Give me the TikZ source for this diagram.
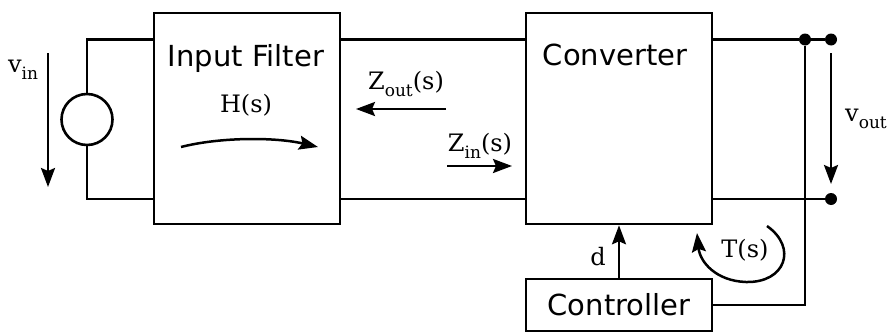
\documentclass[tikz,border=0pt]{standalone}
\usepackage{fontspec}
\newfontfamily\dvsfont{DejaVu Sans}
\newfontfamily\dvserif{DejaVu Serif}
\newcommand{\lowsub}[1]{\raisebox{-0.28em}{\fontsize{17}{18}\selectfont #1}}
\usetikzlibrary{arrows.meta}
\begin{document}
\begin{tikzpicture}[x=1pt,y=-1pt,
  wire/.style={line width=2.6pt},
  blk/.style={draw,line width=2.6pt,inner sep=0pt,fill=white},
  sanslbl/.style={font=\dvsfont\fontsize{29}{31}\selectfont,inner sep=0pt},
  mathlbl/.style={font=\dvserif\fontsize{24}{26}\selectfont,inner sep=0pt},
  arr/.style={line width=2.5pt,-{Stealth[length=19pt,width=14pt,inset=3pt]}},
  dot/.style={circle,fill=black,inner sep=0pt,minimum size=12pt}]
\useasboundingbox (0,0) rectangle (888,332);
% blocks
\node[blk,minimum width=186pt,minimum height=211pt] (inf) at (247,118.5) {};
\node[blk,minimum width=186pt,minimum height=211pt] (conv) at (619,118.5) {};
\node[blk,minimum width=186pt,minimum height=52pt] (ctrl) at (619,305) {};
\node[sanslbl] (inft) at (246,58) {Input Filter};
\node[sanslbl] (convt) at (615,55) {Converter};
\node[sanslbl] (ctrlt) at (619,305) {Controller};
% source
\node[draw,circle,line width=2.6pt,minimum size=51pt,inner sep=0pt] (src) at (87,119.5) {};
\coordinate (lt) at (87,39.5);
\coordinate (lb) at (87,199);
\draw[wire] (inf.west |- lt) -- (lt) -- (src.north);
\draw[wire] (src.south) -- (lb) -- (inf.west |- lb);
% middle wires
\draw[wire] (inf.east |- lt) -- (conv.west |- lt);
\draw[wire] (inf.east |- lb) -- (conv.west |- lb);
% output
\node[dot] (jn) at (805,39.5) {};
\node[dot] (tt) at (831,39.5) {};
\node[dot] (tb) at (831,199) {};
\draw[wire] (conv.east |- jn) -- (jn) -- (tt);
\draw[wire] (conv.east |- tb) -- (tb);
\coordinate (fb) at (805,305);
\draw[wire] (jn) -- (fb) -- (ctrl.east |- fb);
% d arrow
\draw[arr] (ctrl.north) -- (conv.south);
\node[mathlbl] (dl) at (598,257) {d};
% v_in
\coordinate (vina) at (48,53);
\coordinate (vinb) at (48,187);
\draw[arr] (vina) -- (vinb);
\node[mathlbl] (vinl) at (23,70) {v\lowsub{in}};
% v_out
\coordinate (vouta) at (831,53);
\coordinate (voutb) at (831,184);
\draw[arr] (vouta) -- (voutb);
\node[mathlbl,anchor=west] (voutl) at (845,119) {v\lowsub{out}};
% H(s)
\node[mathlbl] (hl) at (246,105) {H(s)};
\coordinate (ha) at (181,147);
\coordinate (hb) at (318,147);
\draw[arr] (ha) .. controls (220,137) and (275,137) .. (hb);
% Zout, Zin
\node[mathlbl] (zol) at (406,84) {Z\lowsub{out}(s)};
\coordinate (zoa) at (446,109);
\coordinate (zob) at (356,109);
\draw[arr] (zoa) -- (zob);
\node[mathlbl] (zil) at (480,146) {Z\lowsub{in}(s)};
\coordinate (zia) at (447,166);
\coordinate (zib) at (512,166);
\draw[arr] (zia) -- (zib);
% T(s)
\node[mathlbl] (tl) at (745,250) {T(s)};
\coordinate (ta) at (767,226);
\coordinate (tm) at (746,282);
\coordinate (tb2) at (697,233);
\draw[arr] (ta) .. controls (798,248) and (785,283) .. (tm) .. controls (716,281) and (700,262) .. (tb2);
\end{tikzpicture}
\end{document}
